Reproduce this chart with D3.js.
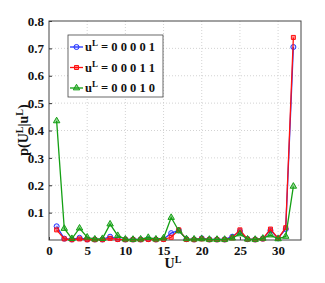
<!DOCTYPE html>
<html>
<head>
<meta charset="utf-8">
<script src="https://cdn.jsdelivr.net/npm/d3@7"></script>
<style>
body { margin: 0; background: #fff; }
text { font-family: "Liberation Serif", "DejaVu Serif", serif; font-weight: bold; }
</style>
</head>
<body>
<svg width="325" height="283"></svg>
<script>
const xs = d3.range(1, 33);
const blueVals = [0.05, 0.005, 0.002, 0.008, 0.002, 0.002, 0.002, 0.012, 0.003, 0.002, 0.002, 0.002, 0.003, 0.002, 0.003, 0.025,
  0.035, 0.003, 0.002, 0.006, 0.002, 0.002, 0.002, 0.012, 0.032, 0.003, 0.002, 0.005, 0.035, 0.006, 0.04, 0.705];
const redVals = [0.037, 0.004, 0.001, 0.004, 0.001, 0.001, 0.001, 0.006, 0.002, 0.001, 0.001, 0.001, 0.002, 0.001, 0.002, 0.01,
  0.037, 0.002, 0.001, 0.004, 0.001, 0.001, 0.001, 0.008, 0.037, 0.003, 0.001, 0.004, 0.04, 0.006, 0.045, 0.74];
const greenVals = [0.435, 0.042, 0.005, 0.043, 0.01, 0.003, 0.005, 0.058, 0.016, 0.003, 0.002, 0.003, 0.009, 0.003, 0.007, 0.082,
  0.033, 0.004, 0.003, 0.004, 0.002, 0.002, 0.002, 0.007, 0.022, 0.003, 0.002, 0.006, 0.018, 0.004, 0.013, 0.196];
const seriesLabels = ["0 0 0 0 1", "0 0 0 1 1", "0 0 0 1 0"];
const xTicks = [0, 5, 10, 15, 20, 25, 30];
const yTicks = [0.1, 0.2, 0.3, 0.4, 0.5, 0.6, 0.7, 0.8];

const margin = {left: 49, top: 21, right: 24, bottom: 43};
const width = 325 - margin.left - margin.right;
const height = 283 - margin.top - margin.bottom;

const svg = d3.select("svg");
const chart = svg.append("g")
  .attr("transform", "translate(" + margin.left + "," + margin.top + ")");

const x = d3.scaleLinear().domain([0, 33]).range([0, width]);
const y = d3.scaleLinear().domain([0, 0.8]).range([height, 0]);

// grid
chart.append("g").selectAll("line")
  .data(xTicks.slice(1))
  .enter().append("line")
  .attr("x1", d => x(d)).attr("x2", d => x(d))
  .attr("y1", 0).attr("y2", height)
  .attr("stroke", "#c8c8c8").attr("stroke-width", 0.8).attr("stroke-dasharray", "1,2");
chart.append("g").selectAll("line")
  .data(yTicks.slice(0, -1))
  .enter().append("line")
  .attr("x1", 0).attr("x2", width)
  .attr("y1", d => y(d)).attr("y2", d => y(d))
  .attr("stroke", "#c8c8c8").attr("stroke-width", 0.8).attr("stroke-dasharray", "1,2");

// axes
const xAxis = d3.axisBottom(x).tickValues(xTicks).tickSize(-3).tickPadding(6).tickFormat(d3.format("d"));
const yAxis = d3.axisLeft(y).tickValues(yTicks).tickSize(-3).tickPadding(5).tickFormat(d3.format(".1f"));

const gx = chart.append("g").attr("transform", "translate(0," + height + ")").call(xAxis);
const gy = chart.append("g").call(yAxis);
[gx, gy].forEach(g => {
  g.select(".domain").remove();
  g.selectAll("line").attr("stroke", "#333");
  g.selectAll("text").attr("font-size", 13).attr("fill", "#111")
    .style("font-family", "Liberation Serif").style("font-weight", "bold");
});

chart.append("rect")
  .attr("width", width).attr("height", height)
  .attr("fill", "none").attr("stroke", "#444").attr("stroke-width", 1);

const series = [
  {vals: blueVals, color: "#2233ff", shape: "circle", label: seriesLabels[0]},
  {vals: redVals, color: "#ff1010", shape: "square", label: seriesLabels[1]},
  {vals: greenVals, color: "#14a014", shape: "triangle", label: seriesLabels[2]}
];
const symType = {circle: d3.symbolCircle, square: d3.symbolSquare, triangle: d3.symbolTriangle};
const symSize = {circle: 20, square: 16, triangle: 18};

const line = d3.line().x((d, i) => x(xs[i])).y(d => y(d));

series.forEach(s => {
  chart.append("path")
    .datum(s.vals)
    .attr("d", line)
    .attr("fill", "none").attr("stroke", s.color).attr("stroke-width", 1.3);
  chart.append("g").selectAll("path")
    .data(s.vals)
    .enter().append("path")
    .attr("transform", (d, i) => "translate(" + x(xs[i]) + "," + y(d) + ")")
    .attr("d", d3.symbol().type(symType[s.shape]).size(symSize[s.shape]))
    .attr("fill", s.color).attr("fill-opacity", s.shape === "circle" ? 0.15 : 0.45)
    .attr("stroke", s.color).attr("stroke-width", 1);
});

// legend
const lg = svg.append("g").attr("transform", "translate(68,35)");
lg.append("rect").attr("width", 95).attr("height", 62)
  .attr("fill", "#fff").attr("stroke", "#444").attr("stroke-width", 0.8);
series.forEach((s, i) => {
  const yy = 12 + i * 20.5;
  lg.append("line").attr("x1", 2).attr("x2", 15).attr("y1", yy).attr("y2", yy)
    .attr("stroke", s.color).attr("stroke-width", 1.3);
  lg.append("path").attr("transform", "translate(8.5," + yy + ")")
    .attr("d", d3.symbol().type(symType[s.shape]).size(symSize[s.shape]))
    .attr("fill", s.color).attr("fill-opacity", s.shape === "circle" ? 0.15 : 0.45)
    .attr("stroke", s.color).attr("stroke-width", 1);
  const t = lg.append("text").attr("x", 17).attr("y", yy + 4).attr("font-size", 12.5).attr("fill", "#111");
  t.append("tspan").text("u");
  t.append("tspan").attr("dy", -5).attr("font-size", 9).text("L");
  t.append("tspan").attr("dy", 5).text(" = " + s.label);
});

// axis labels
const xl = svg.append("text").attr("x", 173).attr("y", 268).attr("text-anchor", "middle")
  .attr("font-size", 14).attr("fill", "#111");
xl.append("tspan").text("U");
xl.append("tspan").attr("dy", -5).attr("font-size", 10).text("L");

const yl = svg.append("text").attr("transform", "translate(28,130) rotate(-90)")
  .attr("text-anchor", "middle").attr("font-size", 14).attr("fill", "#111");
yl.append("tspan").text("p(U");
yl.append("tspan").attr("dy", -5).attr("font-size", 10).text("L");
yl.append("tspan").attr("dy", 5).text("|u");
yl.append("tspan").attr("dy", -5).attr("font-size", 10).text("L");
yl.append("tspan").attr("dy", 5).text(")");
</script>
</body>
</html>
